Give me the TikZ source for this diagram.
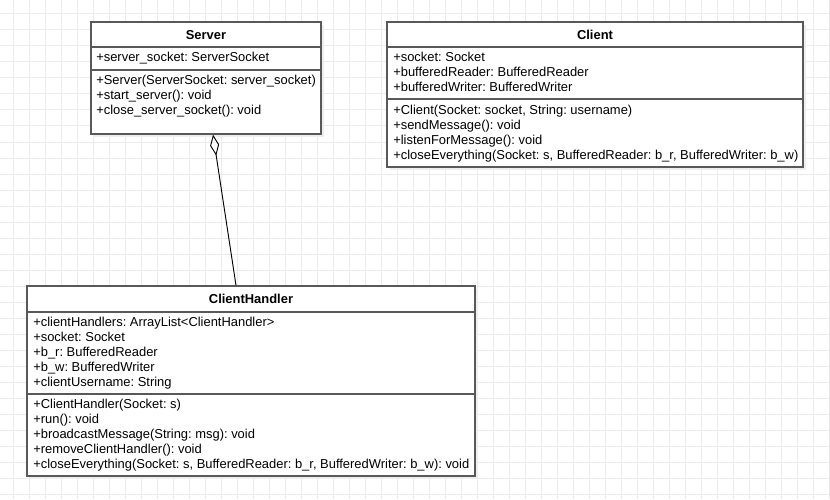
\documentclass[tikz,border=0pt]{standalone}
\usepackage{fontspec}
\setmainfont{Liberation Sans}
\usepackage{tikz}
\usetikzlibrary{positioning}
\usetikzlibrary{calc}
\usetikzlibrary{arrows.meta}
\usetikzlibrary{shadows}
\frenchspacing

\definecolor{gridgray}{HTML}{EBEBEB}
\definecolor{umlline}{HTML}{595959}
\definecolor{shadowgray}{HTML}{EEEEEE}

\tikzset{
  gridline/.style={gridgray, line width=0.75pt},
  classbox/.style={draw=umlline, line width=0.9pt, fill=white, inner sep=0pt,
    drop shadow={shadow xshift=2.6pt, shadow yshift=-2.6pt, fill=shadowgray, opacity=1}},
  classline/.style={umlline, line width=0.9pt},
  classtitle/.style={font=\fontsize{9.7pt}{11pt}\selectfont\bfseries, inner sep=0pt},
  member/.style={font=\fontsize{9.7pt}{11pt}\selectfont, anchor=mid west, inner sep=0pt},
  aggr/.style={black, line width=0.7pt, {Diamond[open,length=16pt,width=6.8pt]}-}
}

\begin{document}
\begin{tikzpicture}[x=0.75pt,y=-0.75pt]
\useasboundingbox (0,0) rectangle (830,499);
\fill[white] (0,0) rectangle (830,499);
\foreach \gx in {13,29,...,829} \draw[gridline] (\gx,0) -- (\gx,499);% vertical grid
\foreach \gy in {14,30,...,494} \draw[gridline] (0,\gy) -- (830,\gy);% horizontal grid

% Server
\node[classbox, minimum width=172.5pt, minimum height=84pt] (server) at (206,78) {};
\draw[classline] (91,47) -- (321,47);
\draw[classline] (91,70) -- (321,70);
\node[classtitle] (srvtitle) at (206,35) {Server};
\node[member] (srvattr) at (96,58.3) {+server\_socket: ServerSocket};
\foreach \txt [count=\i] in {{+Server(ServerSocket: server\_socket)},{+start\_server(): void},{+close\_server\_socket(): void}}
  \node[member] (srvop\i) at (96,81+15*\i-15) {\txt};

% Client
\node[classbox, minimum width=312pt, minimum height=108.75pt] (client) at (595,94.5) {};
\draw[classline] (387,47) -- (803,47);
\draw[classline] (387,99) -- (803,99);
\node[classtitle] (clititle) at (595,35) {Client};
\foreach \txt [count=\i] in {{+socket: Socket},{+bufferedReader: BufferedReader},{+bufferedWriter: BufferedWriter}}
  \node[member] (cliattr\i) at (393,58+15*\i-15) {\txt};
\foreach \txt [count=\i] in {{+Client(Socket: socket, String: username)},{+sendMessage(): void},{+listenForMessage(): void},{+closeEverything(Socket: s, BufferedReader: b\_r, BufferedWriter: b\_w)}}
  \node[member] (cliop\i) at (393,111+15*\i-15) {\txt};

% ClientHandler
\node[classbox, minimum width=336pt, minimum height=142.5pt] (handler) at (251,381) {};
\draw[classline] (27,312) -- (475,312);
\draw[classline] (27,394) -- (475,394);
\node[classtitle] (hdltitle) at (251,299) {ClientHandler};
\foreach \txt [count=\i] in {{+clientHandlers: ArrayList<ClientHandler>},{+socket: Socket},{+b\_r: BufferedReader},{+b\_w: BufferedWriter},{+clientUsername: String}}
  \node[member] (hdlattr\i) at (33,322.6+15*\i-15) {\txt};
\foreach \txt [count=\i] in {{+ClientHandler(Socket: s)},{+run(): void},{+broadcastMessage(String: msg): void},{+removeClientHandler(): void},{+closeEverything(Socket: s, BufferedReader: b\_r, BufferedWriter: b\_w): void}}
  \node[member] (hdlop\i) at (33,405.3+15*\i-15) {\txt};

% aggregation
\draw[aggr] ($(server.south)+(7,0)$) -- ($(handler.north)+(-15,0)$);
\end{tikzpicture}
\end{document}
